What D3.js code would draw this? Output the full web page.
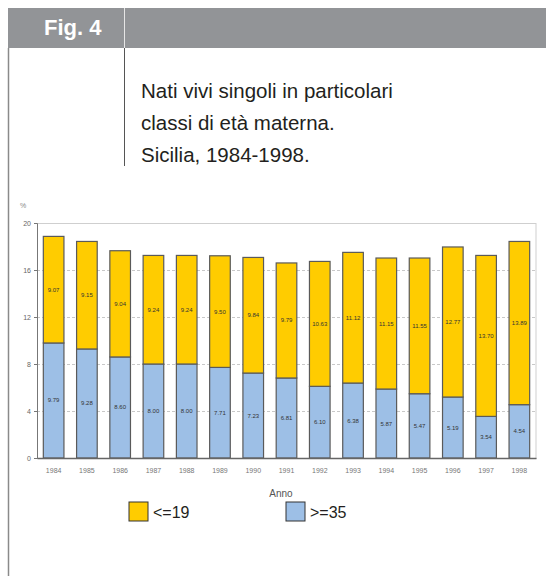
<!DOCTYPE html>
<html>
<head>
<meta charset="utf-8">
<script src="https://cdn.jsdelivr.net/npm/d3@7"></script>
<style>
  body { margin: 0; background: #fff; }
  svg { display: block; font-family: "Liberation Sans", Arial, sans-serif; }
</style>
</head>
<body>
<div id="a"></div>
<script>
// values (percent of single live births)
var years = ["1984","1985","1986","1987","1988","1989","1990","1991","1992","1993","1994","1995","1996","1997","1998"];
var under19 = [9.07, 9.15, 9.04, 9.24, 9.24, 9.50, 9.84, 9.79, 10.63, 11.12, 11.15, 11.55, 12.77, 13.70, 13.89];
var over35 = [9.79, 9.28, 8.60, 8.00, 8.00, 7.71, 7.23, 6.81, 6.10, 6.38, 5.87, 5.47, 5.19, 3.54, 4.54];
var yTicks = [0, 4, 8, 12, 16, 20];
var titleLines = ["Nati vivi singoli in particolari", "classi di età materna.", "Sicilia, 1984-1998."];
var legendItems = [{label: "<=19", color: "#FFCC00"}, {label: ">=35", color: "#9DBFE6"}];

var W = 546, H = 580;
var svg = d3.select("#a").append("svg")
  .attr("width", W).attr("height", H);

// header band
svg.append("rect").attr("x", 8).attr("y", 8).attr("width", W - 8).attr("height", 40).attr("fill", "#929497");
svg.append("text").attr("x", 44).attr("y", 35).text("Fig. 4")
  .attr("fill", "#fff").attr("font-size", 22).attr("font-weight", "bold");
svg.append("line").attr("x1", 124.5).attr("x2", 124.5).attr("y1", 8).attr("y2", 48)
  .attr("stroke", "#e6e6e6").attr("stroke-width", 1);
// frame lines
svg.append("line").attr("x1", 8.5).attr("x2", 8.5).attr("y1", 48).attr("y2", 576)
  .attr("stroke", "#8a8a8a").attr("stroke-width", 1.5);
svg.append("line").attr("x1", 124.5).attr("x2", 124.5).attr("y1", 48).attr("y2", 166)
  .attr("stroke", "#555").attr("stroke-width", 1);

svg.append("g").selectAll("text").data(titleLines).enter().append("text")
  .attr("x", 141).attr("y", function(d, i) { return 98 + i * 32; })
  .attr("font-size", 20.5).attr("fill", "#231f20").text(function(d) { return d; });

// chart
var x = d3.scaleBand().domain(years).range([37, 536]).paddingInner(0.38).paddingOuter(0.19);
var y = d3.scaleLinear().domain([0, 20]).range([458, 223]);

var stacked = years.map(function(yr, i) { return {year: yr, blue: over35[i], yellow: under19[i]}; });

// grid
svg.append("g").selectAll("line").data(yTicks.filter(function(t) { return t > 0 && t < 20; })).enter().append("line")
  .attr("x1", 37).attr("x2", 536)
  .attr("y1", function(d) { return y(d) + 0.5; }).attr("y2", function(d) { return y(d) + 0.5; })
  .attr("stroke", "#c8c8c8").attr("stroke-dasharray", "3,2");
svg.append("rect").attr("x", 37.5).attr("y", y(20) + 0.5).attr("width", 536 - 37.5).attr("height", y(0) - y(20))
  .attr("fill", "none").attr("stroke", "#cfcfcf");

var bars = svg.append("g");
bars.selectAll("rect.b").data(stacked).enter().append("rect").attr("class", "b")
  .attr("x", function(d) { return x(d.year); }).attr("width", x.bandwidth())
  .attr("y", function(d) { return y(d.blue); })
  .attr("height", function(d) { return y(0) - y(d.blue); })
  .attr("fill", "#9DBFE6").attr("stroke", "#5a5a5a").attr("stroke-width", 1.2);
bars.selectAll("rect.yl").data(stacked).enter().append("rect").attr("class", "yl")
  .attr("x", function(d) { return x(d.year); }).attr("width", x.bandwidth())
  .attr("y", function(d) { return y(d.blue + d.yellow); })
  .attr("height", function(d) { return y(d.blue) - y(d.blue + d.yellow); })
  .attr("fill", "#FFCC00").attr("stroke", "#5a5a5a").attr("stroke-width", 1.2);

var fmt = d3.format(".2f");
bars.selectAll("text.bl").data(stacked).enter().append("text").attr("class", "bl")
  .attr("x", function(d) { return x(d.year) + x.bandwidth() / 2; })
  .attr("y", function(d) { return y(d.blue / 2) + 2; })
  .attr("text-anchor", "middle").attr("font-size", 6).attr("fill", "#333")
  .text(function(d) { return fmt(d.blue); });
bars.selectAll("text.yt").data(stacked).enter().append("text").attr("class", "yt")
  .attr("x", function(d) { return x(d.year) + x.bandwidth() / 2; })
  .attr("y", function(d) { return y(d.blue + d.yellow / 2) + 2; })
  .attr("text-anchor", "middle").attr("font-size", 6).attr("fill", "#333")
  .text(function(d) { return fmt(d.yellow); });

// axes
var yAxis = svg.append("g").attr("transform", "translate(37,0)")
  .call(d3.axisLeft(y).tickValues(yTicks).tickSize(3).tickFormat(d3.format("d")));
yAxis.select(".domain").attr("stroke", "#777");
yAxis.selectAll(".tick line").attr("stroke", "#777");
yAxis.selectAll(".tick text").attr("font-size", 7).attr("fill", "#666").attr("font-family", "Liberation Sans, Arial");

var xAxis = svg.append("g").attr("transform", "translate(0,458)")
  .call(d3.axisBottom(x).tickSize(0).tickPadding(10));
xAxis.select(".domain").attr("stroke", "#666").attr("stroke-width", 1.5);
xAxis.selectAll(".tick text").attr("font-size", 7).attr("fill", "#777").attr("font-family", "Liberation Sans, Arial");

svg.append("text").attr("x", 20).attr("y", 208).text("%").attr("font-size", 7).attr("fill", "#888");
svg.append("text").attr("x", 281).attr("y", 497).attr("text-anchor", "middle").text("Anno")
  .attr("font-size", 10).attr("fill", "#555");

// legend
var leg = svg.append("g").selectAll("g").data(legendItems).enter().append("g")
  .attr("transform", function(d, i) { return "translate(" + (129 + i * 157) + ",502)"; });
leg.append("rect").attr("width", 19).attr("height", 19)
  .attr("fill", function(d) { return d.color; }).attr("stroke", "#333").attr("stroke-width", 1);
leg.append("text").attr("x", 24).attr("y", 16).attr("font-size", 16).attr("fill", "#231f20")
  .text(function(d) { return d.label; });
</script>
</body>
</html>
